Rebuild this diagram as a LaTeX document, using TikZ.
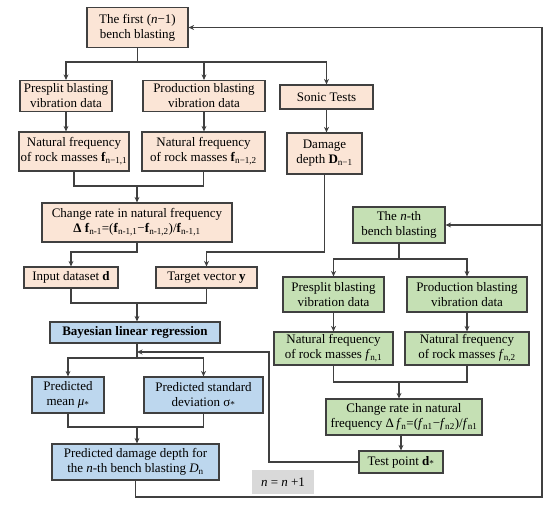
\documentclass[tikz,border=0pt]{standalone}
\usepackage{fontspec}
\setmainfont{Liberation Serif}
\usepackage{tikz}
\usetikzlibrary{arrows.meta}

\definecolor{orfill}{RGB}{251,229,214}
\definecolor{blfill}{RGB}{189,215,238}
\definecolor{grfill}{RGB}{197,224,180}
\definecolor{gyfill}{RGB}{217,217,217}
\definecolor{edge}{RGB}{64,64,64}

\begin{document}
\begin{tikzpicture}[x=1pt,y=-1pt,
  box/.style={draw=edge,line width=1.2pt,align=center,inner sep=0pt,
    font=\fontsize{13}{15}\selectfont},
  or/.style={box,fill=orfill},
  bl/.style={box,fill=blfill},
  gr/.style={box,fill=grfill},
  wh/.style={minimum width=#1},
  ht/.style={minimum height=#1},
  line/.style={draw=edge,line width=1.2pt},
  >={Stealth[length=5.5pt,width=5pt]}]
  \useasboundingbox (0,0) rectangle (550,505);
  % first (n-1) blasts
  \node(first) at (137.5,27.5)[or,wh=101,ht=40]{The first (\textit{n}−1)\\bench blasting};
  \node(ps1) at (66,96)[or,wh=92,ht=31]{Presplit blasting\\vibration data};
  \node(pb1) at (204,96)[or,wh=122,ht=31]{Production blasting\\vibration data};
  \node(sonic) at (326.5,97)[or,wh=93,ht=24]{Sonic Tests};
  \node(dmg) at (324.5,153.5)[or,wh=75,ht=41]{Damage\\depth \textbf{D}\textsubscript{n−1}};
  \node(nf11) at (74,151.5)[or,wh=110,ht=39]{Natural frequency\\of rock masses \textbf{f}\textsubscript{n−1,1}};
  \node(nf12) at (203.5,151.5)[or,wh=123,ht=39]{Natural frequency\\of rock masses \textbf{f}\textsubscript{n−1,2}};
  \node(cr1) at (137,222.5)[or,wh=190,ht=39]{Change rate in natural frequency\\\textbf{Δ f}\textsubscript{n-1}=(\textbf{f}\textsubscript{n-1,1}−\textbf{f}\textsubscript{n-1,2})/\textbf{f}\textsubscript{n-1,1}};
  \node(input) at (71,277.5)[or,wh=94,ht=21]{Input dataset \textbf{d}};
  \node(target) at (206.5,277.5)[or,wh=101,ht=21]{Target vector \textbf{y}};
  % regression
  \node(blr) at (135,332.5)[bl,wh=170,ht=21]{\textbf{Bayesian linear regression}};
  \node(mean) at (68,395)[bl,wh=72,ht=36]{Predicted\\mean \textit{μ}\textsubscript{*}};
  \node(std) at (203.5,395)[bl,wh=119,ht=36]{Predicted standard\\deviation σ\textsubscript{*}};
  \node(pdd) at (135.5,462)[bl,wh=167,ht=36]{Predicted damage depth for\\the \textit{n}-th bench blasting \textit{D}\textsubscript{n}};
  \node(nn) at (283,482)[box,fill=gyfill,draw=none,wh=62,ht=24]{\textit{n} = \textit{n} +1};
  % n-th blast
  \node(nth) at (399,225)[gr,wh=92,ht=36]{The \textit{n}-th\\bench blasting};
  \node(ps2) at (333.5,294.5)[gr,wh=101,ht=35]{Presplit blasting\\vibration data};
  \node(pb2) at (467,294.5)[gr,wh=120,ht=35]{Production blasting\\vibration data};
  \node(nf21) at (333.5,348.5)[gr,wh=119,ht=33]{Natural frequency\\of rock masses \textit{f}\textsubscript{n,1}};
  \node(nf22) at (467,348.5)[gr,wh=124,ht=33]{Natural frequency\\of rock masses \textit{f}\textsubscript{n,2}};
  \node(cr2) at (404,417)[gr,wh=156,ht=36]{Change rate in natural\\frequency Δ\,\textit{f}\textsubscript{n}=(\textit{f}\textsubscript{n1}−\textit{f}\textsubscript{n2})/\textit{f}\textsubscript{n1}};
  \node(test) at (401,462)[gr,wh=84,ht=22]{Test point \textbf{d}\textsubscript{*}};

  \coordinate(j1) at (137.5,62);
  \coordinate(m1) at (137,186);
  \coordinate(m2) at (137,252);
  \coordinate(m3) at (260,252);
  \coordinate(m4) at (137,303);
  \coordinate(m5) at (137,358);
  \coordinate(m6) at (269,352);
  \coordinate(m7) at (137,352);
  \coordinate(m8) at (137,427);
  \coordinate(m9) at (399,259);
  \coordinate(m10) at (399,382);
  \coordinate(r1) at (542,497);

  \draw[line] (first.south) -- (j1);
  \draw[line,->] (j1) -| (ps1.north);
  \draw[line,->] (j1) -| (sonic.north);
  \draw[line,->] (pb1.north |- j1) -- (pb1.north);
  \draw[line,->] (ps1.south) -- (ps1.south |- nf11.north);
  \draw[line,->] (pb1.south) -- (pb1.south |- nf12.north);
  \draw[line,->] (sonic.south) -- (sonic.south |- dmg.north);
  \draw[line] (nf11.south) |- (m1) -| (nf12.south);
  \draw[line,->] (m1) -- (cr1.north);
  \draw[line,->] (cr1.south) -- (m2) -| (input.north);
  \draw[line,->] (dmg.south) |- (m3) -| (target.north);
  \draw[line] (input.south) |- (m4) -| (target.south);
  \draw[line,->] (m4) -- (m4 |- blr.north);
  \draw[line] (m5 |- blr.south) -- (m5);
  \draw[line,->] (m5) -| (mean.north);
  \draw[line,->] (m5) -| (std.north);
  \draw[line,->] (test.west) -| (m6) -- (m7);
  \draw[line] (mean.south) |- (m8) -| (std.south);
  \draw[line,->] (m8) -- (m8 |- pdd.north);
  \draw[line,->] (pdd.south) |- (r1) |- (first.east);
  \draw[line,->] (r1 |- nth.east) -- (nth.east);
  \draw[line] (nth.south) -- (m9);
  \draw[line,->] (m9) -| (ps2.north);
  \draw[line,->] (m9) -| (pb2.north);
  \draw[line,->] (ps2.south) -- (ps2.south |- nf21.north);
  \draw[line,->] (pb2.south) -- (pb2.south |- nf22.north);
  \draw[line] (nf21.south) |- (m10) -| (nf22.south);
  \draw[line,->] (m10) -- (m10 |- cr2.north);
  \draw[line,->] (test.north |- cr2.south) -- (test.north);
\end{tikzpicture}
\end{document}
